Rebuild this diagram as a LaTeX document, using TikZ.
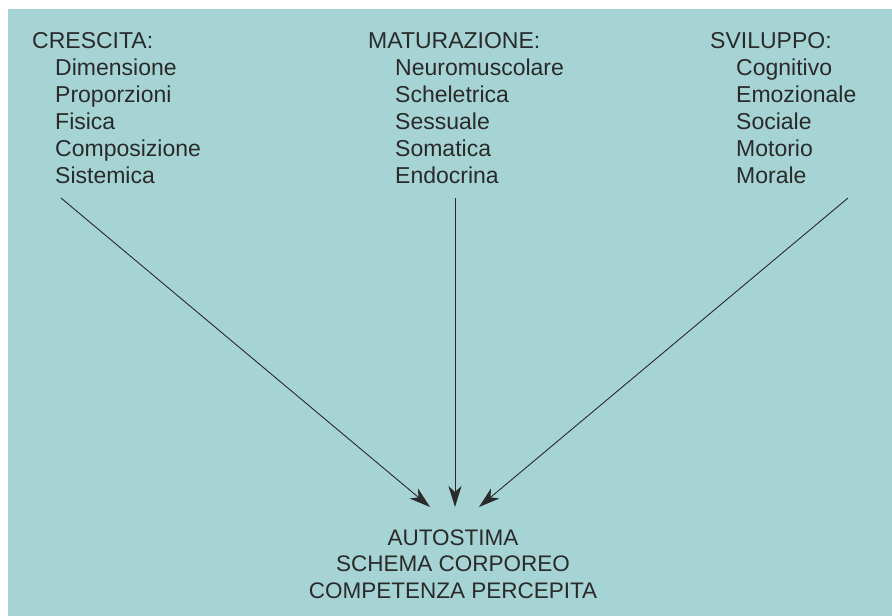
\documentclass[tikz,border=0pt]{standalone}
\usepackage{fontspec}
\setmainfont{Liberation Sans}
\usetikzlibrary{arrows.meta}
\definecolor{bgteal}{HTML}{A6D3D3}
\definecolor{ink}{HTML}{2A2A2A}
\begin{document}
\begin{tikzpicture}[x=1pt,y=-1pt,
  lbl/.style={inner sep=0pt,anchor=base west,text=ink,font=\fontsize{23}{27}\selectfont},
  ctr/.style={inner sep=0pt,anchor=base,text=ink,font=\fontsize{22.5}{27}\selectfont},
  arr/.style={draw=ink,line width=0.9pt,-{Stealth[length=21pt,width=13pt,inset=6pt]}}]
\useasboundingbox (0,0) rectangle (892,616);
\fill[white] (0,0) rectangle (892,616);
\fill[bgteal] (8,9) rectangle (892,616);
% CRESCITA
\node[lbl] (c0) at (32,48) {CRESCITA:};
\node[lbl] (c1) at (55,75) {Dimensione};
\node[lbl] (c2) at (55,102) {Proporzioni};
\node[lbl] (c3) at (55,129) {Fisica};
\node[lbl] (c4) at (55,156) {Composizione};
\node[lbl] (c5) at (55,183) {Sistemica};
% MATURAZIONE
\node[lbl] (m0) at (368,48) {MATURAZIONE:};
\node[lbl] (m1) at (395,75) {Neuromuscolare};
\node[lbl] (m2) at (395,102) {Scheletrica};
\node[lbl] (m3) at (395,129) {Sessuale};
\node[lbl] (m4) at (395,156) {Somatica};
\node[lbl] (m5) at (395,183) {Endocrina};
% SVILUPPO
\node[lbl] (s0) at (710,48) {SVILUPPO:};
\node[lbl] (s1) at (736,75) {Cognitivo};
\node[lbl] (s2) at (736,102) {Emozionale};
\node[lbl] (s3) at (736,129) {Sociale};
\node[lbl] (s4) at (736,156) {Motorio};
\node[lbl] (s5) at (736,183) {Morale};
% bottom
\node[ctr] (r1) at (453,545) {AUTOSTIMA};
\node[ctr] (r2) at (453,571) {SCHEMA CORPOREO};
\node[ctr] (r3) at (453,598) {COMPETENZA PERCEPITA};
% arrows
\coordinate (a1) at (61,198);
\coordinate (a2) at (455,198);
\coordinate (a3) at (848,198);
\coordinate (t1) at (430,507);
\coordinate (t2) at (455,507);
\coordinate (t3) at (479,507);
\draw[arr] (a1) -- (t1);
\draw[arr] (a2) -- (t2);
\draw[arr] (a3) -- (t3);
\end{tikzpicture}
\end{document}
